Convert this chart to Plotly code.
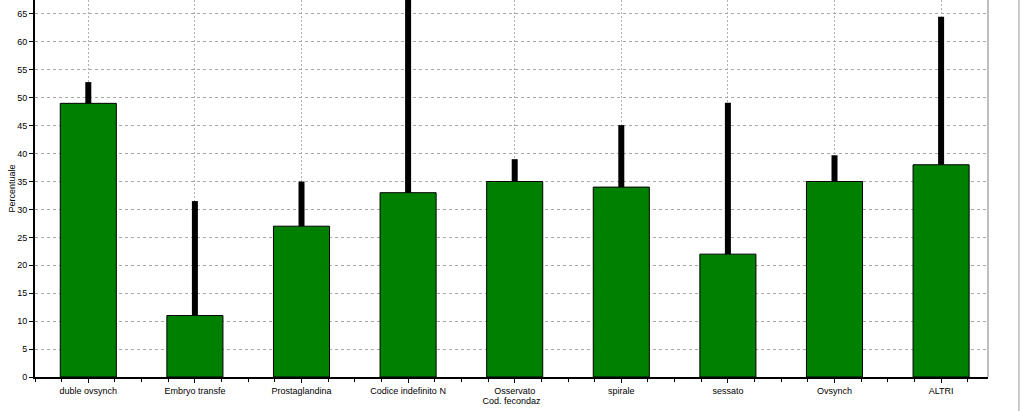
import plotly.graph_objects as go

# data
categories = ["duble ovsynch", "Embryo transfe", "Prostaglandina", "Codice indefinito N",
              "Osservato", "spirale", "sessato", "Ovsynch", "ALTRI"]
percent = [49, 11, 27, 33, 35, 34, 22, 35, 38]
upper = [52.8, 31.5, 35, 72, 39, 45.1, 49.1, 39.7, 64.5]

err_plus = [u - p for u, p in zip(upper, percent)]
xpos = list(range(len(categories)))

fig = go.Figure()
fig.add_trace(go.Bar(
    x=xpos,
    y=percent,
    width=0.526,
    marker=dict(color="#008000", line=dict(color="#000000", width=1)),
    error_y=dict(type="data", symmetric=False, array=err_plus,
                 arrayminus=[0] * len(percent), color="#000000",
                 thickness=6, width=0),
))

font = dict(family="Liberation Sans, Arial, sans-serif", size=9, color="#000000")

fig.update_layout(
    width=1023, height=411,
    margin=dict(l=35, r=35, t=0, b=34),
    paper_bgcolor="white", plot_bgcolor="white",
    showlegend=False,
    font=font,
    xaxis=dict(
        range=[-0.5, 8.44],
        tickvals=xpos, ticktext=categories,
        showgrid=True, gridcolor="#b0b0b0", griddash="2px,2px", gridwidth=1,
        showline=True, linecolor="#000000", linewidth=2,
        ticks="outside", ticklen=4, tickcolor="#000000",
        minor=dict(dtick=0.25, tick0=-0.5, ticks="outside", ticklen=3,
                   tickcolor="#000000", showgrid=False),
        title=dict(text="Cod. fecondaz", font=font, standoff=2),
        zeroline=False,
    ),
    yaxis=dict(
        range=[0, 67.5],
        dtick=5,
        showgrid=True, gridcolor="#a8a8a8", griddash="3px,3px", gridwidth=1,
        showline=True, linecolor="#000000", linewidth=2,
        ticks="outside", ticklen=4, tickcolor="#000000",
        title=dict(text="Percentuale", font=font, standoff=0),
        zeroline=False,
    ),
    shapes=[
        dict(type="line", xref="paper", yref="paper", x0=1, x1=1, y0=0, y1=1,
             line=dict(color="#808080", width=1)),
        dict(type="line", xref="paper", yref="paper", x0=1.0325, x1=1.0325, y0=-0.1, y1=1,
             line=dict(color="#9a9a9a", width=1)),
    ],
)

# drop the page's default body margin so the figure sits at the window's corner
fig.write_html("out.html", config={"displayModeBar": False},
               post_script="document.body.style.margin='0';document.body.style.overflow='hidden';")
